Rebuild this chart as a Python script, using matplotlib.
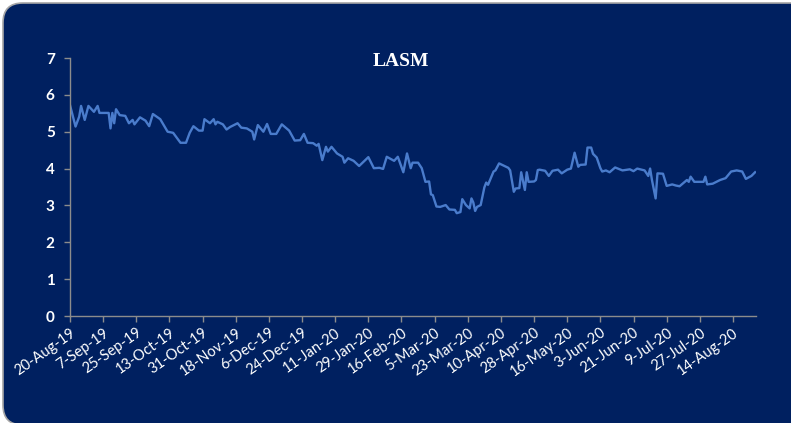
import numpy as np
import pandas as pd
import matplotlib
matplotlib.use('Agg')
import matplotlib.pyplot as plt
from matplotlib.patches import FancyBboxPatch

# LASM price
dates = ['2019-08-20', '2019-08-23', '2019-08-25', '2019-08-26', '2019-08-28', '2019-08-30',
         '2019-09-02', '2019-09-04', '2019-09-05', '2019-09-06', '2019-09-10', '2019-09-11',
         '2019-09-12', '2019-09-13', '2019-09-14', '2019-09-16', '2019-09-19', '2019-09-21',
         '2019-09-23', '2019-09-24', '2019-09-27', '2019-09-30', '2019-10-02', '2019-10-04',
         '2019-10-08', '2019-10-12', '2019-10-15', '2019-10-19', '2019-10-22', '2019-10-24',
         '2019-10-26', '2019-10-29', '2019-10-31', '2019-11-01', '2019-11-04', '2019-11-06',
         '2019-11-07', '2019-11-08', '2019-11-11', '2019-11-13', '2019-11-15', '2019-11-19',
         '2019-11-21', '2019-11-24', '2019-11-27', '2019-11-28', '2019-11-30', '2019-12-03',
         '2019-12-05', '2019-12-07', '2019-12-10', '2019-12-13', '2019-12-17', '2019-12-20',
         '2019-12-23', '2019-12-25', '2019-12-27', '2019-12-30', '2020-01-01', '2020-01-02',
         '2020-01-04', '2020-01-06', '2020-01-07', '2020-01-09', '2020-01-12', '2020-01-15',
         '2020-01-16', '2020-01-18', '2020-01-21', '2020-01-24', '2020-01-29', '2020-02-01',
         '2020-02-04', '2020-02-06', '2020-02-08', '2020-02-12', '2020-02-14', '2020-02-17',
         '2020-02-19', '2020-02-21', '2020-02-22', '2020-02-25', '2020-02-27', '2020-02-29',
         '2020-03-02', '2020-03-03', '2020-03-04', '2020-03-06', '2020-03-08', '2020-03-11',
         '2020-03-13', '2020-03-16', '2020-03-17', '2020-03-19', '2020-03-20', '2020-03-22',
         '2020-03-24', '2020-03-25', '2020-03-26', '2020-03-27', '2020-03-28', '2020-03-30',
         '2020-04-01', '2020-04-02', '2020-04-03', '2020-04-06', '2020-04-07', '2020-04-09',
         '2020-04-14', '2020-04-15', '2020-04-17', '2020-04-18', '2020-04-20', '2020-04-21',
         '2020-04-23', '2020-04-24', '2020-04-25', '2020-04-28', '2020-04-29', '2020-04-30',
         '2020-05-01', '2020-05-04', '2020-05-06', '2020-05-08', '2020-05-11', '2020-05-13',
         '2020-05-16', '2020-05-18', '2020-05-20', '2020-05-22', '2020-05-23', '2020-05-26',
         '2020-05-27', '2020-05-29', '2020-05-30', '2020-06-01', '2020-06-03', '2020-06-04',
         '2020-06-06', '2020-06-08', '2020-06-11', '2020-06-15', '2020-06-19', '2020-06-21',
         '2020-06-23', '2020-06-27', '2020-06-29', '2020-06-30', '2020-07-01', '2020-07-03',
         '2020-07-04', '2020-07-07', '2020-07-09', '2020-07-12', '2020-07-14', '2020-07-16',
         '2020-07-20', '2020-07-21', '2020-07-22', '2020-07-24', '2020-07-29', '2020-07-30',
         '2020-07-31', '2020-08-03', '2020-08-07', '2020-08-10', '2020-08-13', '2020-08-16',
         '2020-08-19', '2020-08-21', '2020-08-24', '2020-08-26']
prices = [5.72, 5.14, 5.41, 5.70, 5.32, 5.70,
          5.54, 5.70, 5.51, 5.51, 5.51, 5.09,
          5.51, 5.23, 5.61, 5.45, 5.43, 5.23,
          5.32, 5.20, 5.39, 5.30, 5.15, 5.48,
          5.34, 5.00, 4.97, 4.70, 4.70, 4.97,
          5.15, 5.03, 5.03, 5.34, 5.23, 5.34,
          5.20, 5.27, 5.20, 5.06, 5.13, 5.23,
          5.11, 5.09, 5.00, 4.79, 5.18, 5.00,
          5.21, 4.94, 4.94, 5.20, 5.03, 4.76,
          4.77, 4.94, 4.70, 4.69, 4.62, 4.67,
          4.23, 4.59, 4.46, 4.59, 4.41, 4.32,
          4.16, 4.28, 4.21, 4.07, 4.31, 4.01,
          4.02, 3.99, 4.32, 4.21, 4.32, 3.90,
          4.41, 4.01, 4.16, 4.16, 4.01, 3.64,
          3.65, 3.30, 3.28, 2.97, 2.96, 3.01,
          2.89, 2.88, 2.79, 2.82, 3.17, 3.01,
          2.92, 3.19, 3.08, 2.85, 2.96, 3.01,
          3.49, 3.62, 3.56, 3.92, 3.95, 4.14,
          4.02, 3.95, 3.37, 3.46, 3.47, 3.90,
          3.42, 3.90, 3.64, 3.65, 3.69, 3.96,
          3.97, 3.94, 3.80, 3.94, 3.97, 3.87,
          3.97, 4.00, 4.43, 4.05, 4.10, 4.11,
          4.57, 4.57, 4.40, 4.30, 4.01, 3.92,
          3.95, 3.90, 4.03, 3.95, 3.98, 3.93,
          4.00, 3.95, 3.80, 4.00, 3.69, 3.19,
          3.87, 3.86, 3.53, 3.57, 3.54, 3.52,
          3.69, 3.64, 3.78, 3.64, 3.64, 3.78,
          3.57, 3.59, 3.69, 3.74, 3.92, 3.95,
          3.92, 3.72, 3.80, 3.90]
tick_dates = pd.date_range('2019-08-20', '2020-08-14', freq='18D')
title = 'LASM'

navy = '#002060'
grey = '#8c8c8c'

dates = pd.to_datetime(dates)

fig = plt.figure(figsize=(7.91, 4.23), dpi=100)
fig.patch.set_facecolor('white')
# rounded dark panel behind everything
bg = FancyBboxPatch((3 / 791, -2 / 423), 1.05, 1 - 1 / 423,
                    boxstyle='round,pad=0,rounding_size=0.025',
                    transform=fig.transFigure, facecolor=navy,
                    edgecolor='#a6a6a6', linewidth=1.2,
                    mutation_aspect=791 / 423, zorder=-10)
fig.patches.append(bg)

ax = fig.add_axes([70 / 791, 1 - 316 / 423, (756 - 70) / 791, (316 - 58) / 423])
ax.set_zorder(1)
ax.patch.set_alpha(0)
ax.plot(dates, prices, color='#4a7ccc', linewidth=1.7)

ax.set_ylim(0, 7)
ax.set_yticks(range(0, 8))
ax.set_xlim(pd.Timestamp('2019-08-20'), pd.Timestamp('2020-08-26 12:00'))
ax.set_xticks(tick_dates)
ax.set_xticklabels([d.strftime('%-d-%b-%y') for d in tick_dates],
                   rotation=35, ha='right', rotation_mode='anchor',
                   fontsize=10.5, color='white', family='Lato')
for lbl in ax.get_yticklabels():
    lbl.set_fontweight('bold')
    lbl.set_family('Lato')
    lbl.set_fontsize(11)
    lbl.set_color('white')

for side in ['top', 'right']:
    ax.spines[side].set_visible(False)
for side in ['left', 'bottom']:
    ax.spines[side].set_color(grey)
    ax.spines[side].set_linewidth(1.0)
ax.tick_params(axis='both', colors=grey, length=4, width=1.0, labelcolor='white')
ax.tick_params(axis='y', pad=7)
ax.tick_params(axis='x', pad=3)

fig.text(401 / 791, 1 - 62 / 423, title, ha='center', va='center',
         fontsize=14, fontweight='bold', family='Liberation Serif', color='white')

fig.savefig('out.png', dpi=100, facecolor=fig.get_facecolor())
